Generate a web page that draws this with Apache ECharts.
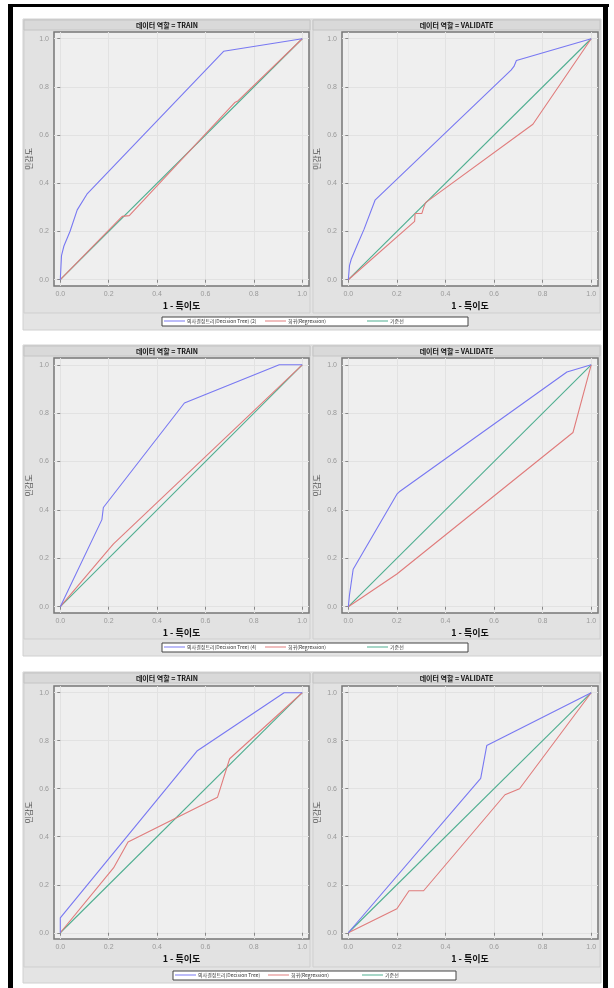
<!DOCTYPE html>
<html><head><meta charset="utf-8">
<script src="https://cdn.jsdelivr.net/npm/echarts@6/dist/echarts.min.js"></script>
<style>html,body{margin:0;padding:0;background:#fff}#c{width:614px;height:988px}</style>
</head><body><div id="c"></div>
<script>
// ---------- data ----------
const tickValues = [0, 0.2, 0.4, 0.6, 0.8, 1.0];
const tickLabels = ['0.0', '0.2', '0.4', '0.6', '0.8', '1.0'];
const facetTitles = ['데이터 역할 = TRAIN', '데이터 역할 = VALIDATE'];
const xTitle = '1 - 특이도';
const yTitle = '민감도';
const treeNames = ['의사결정트리(Decision Tree) (2)', '의사결정트리(Decision Tree) (4)', '의사결정트리(Decision Tree)'];
const regName = '회귀(Regression)';
const baseName = '기준선';

const tree1Train = [[0,0],[0.005,0.1],[0.015,0.14],[0.04,0.2],[0.07,0.29],[0.11,0.355],[0.675,0.948],[1,1]];
const reg1Train  = [[0,0],[0.256,0.263],[0.262,0.266],[0.285,0.266],[0.721,0.735],[0.725,0.742],[0.734,0.742],[1,1]];
const tree1Val   = [[0,0],[0.005,0.06],[0.012,0.085],[0.035,0.14],[0.065,0.21],[0.11,0.33],[0.67,0.87],[0.682,0.885],[0.692,0.91],[1,1]];
const reg1Val    = [[0,0],[0.273,0.242],[0.275,0.275],[0.303,0.275],[0.31,0.298],[0.316,0.3],[0.318,0.32],[0.76,0.645],[1,1]];

const tree2Train = [[0,0],[0.172,0.36],[0.178,0.41],[0.513,0.842],[0.905,1],[1,1]];
const reg2Train  = [[0,0],[0.21,0.248],[0.22,0.26],[1,1]];
const tree2Val   = [[0,0],[0.005,0.05],[0.02,0.155],[0.2,0.465],[0.21,0.475],[0.9,0.97],[1,1]];
const reg2Val    = [[0,0],[0.2,0.135],[0.925,0.72],[1,1]];

const tree3Train = [[0,0],[0,0.062],[0.565,0.757],[0.925,1],[1,1]];
const reg3Train  = [[0,0],[0.22,0.27],[0.28,0.378],[0.65,0.565],[0.7,0.725],[1,1]];
const tree3Val   = [[0,0],[0.545,0.643],[0.57,0.78],[1,1]];
const reg3Val    = [[0,0],[0.2,0.1],[0.25,0.175],[0.31,0.175],[0.645,0.575],[0.705,0.6],[1,1]];

const baseline = [[0,0],[1,1]];

const panelData = [
  [[tree1Train, reg1Train], [tree1Val, reg1Val]],
  [[tree2Train, reg2Train], [tree2Val, reg2Val]],
  [[tree3Train, reg3Train], [tree3Val, reg3Val]]
];

// ---------- layout / style ----------
const FONT = '"Liberation Sans", "Noto Sans CJK KR", sans-serif';
const KFONT = '"Noto Sans CJK KR", "Liberation Sans", sans-serif';
const C_TREE = '#7878f2', C_REG = '#e07c7c', C_BASE = '#4fae90';
const layout = [
  {pTop:19, pBot:330, cBot:313, gTop:32, gH:254, lTop:317, lBot:326, lL:162, lR:468, items:[164,265,367]},
  {pTop:345, pBot:656, cBot:639, gTop:358, gH:255, lTop:643, lBot:652, lL:162, lR:468, items:[164,265,367]},
  {pTop:672, pBot:983, cBot:967, gTop:686, gH:253, lTop:971, lBot:980, lL:173, lR:456, items:[175,268,362]}
];
const cols = [{cL:24, cR:310, gL:54, gW:255}, {cL:313, cR:600, gL:342, gW:256}];
const AMIN = -0.026, AMAX = 1.028;

const grids = [], xAxes = [], yAxes = [], series = [], legends = [], graphics = [];

layout.forEach((P, pi) => {
  graphics.push({type:'rect', shape:{x:23, y:P.pTop, width:578, height:P.pBot-P.pTop}, style:{fill:'#e4e4e4', stroke:'#d0d0d0', lineWidth:1}, z:-10});
  graphics.push({type:'rect', shape:{x:P.lL, y:P.lTop, width:P.lR-P.lL, height:P.lBot-P.lTop}, style:{fill:'#ffffff', stroke:'#444', lineWidth:1}, z:-5});
  cols.forEach((C, ci) => {
    graphics.push({type:'rect', shape:{x:C.cL, y:P.pTop+1, width:C.cR-C.cL, height:P.cBot-P.pTop-1}, style:{fill:'#e2e2e2', stroke:'#cfcfcf', lineWidth:1}, z:-9});
    graphics.push({type:'rect', shape:{x:C.cL, y:P.pTop+1, width:C.cR-C.cL, height:10}, style:{fill:'#d9d9d9', stroke:'#c4c4c4', lineWidth:1}, z:-8});
    graphics.push({type:'text', x:(C.cL+C.cR)/2, y:P.pTop+6.5, style:{text:facetTitles[ci], fontSize:7, fontWeight:'bold', fontFamily:KFONT, fill:'#111', align:'center', verticalAlign:'middle'}, z:5});
    const idx = grids.length;
    grids.push({left:C.gL, top:P.gTop, width:C.gW, height:P.gH, show:true, backgroundColor:'#efefef', borderColor:'#777', borderWidth:1.5, containLabel:false});
    xAxes.push({type:'value', gridIndex:idx, min:AMIN, max:AMAX,
      name:xTitle, nameLocation:'middle', nameGap:15, nameTextStyle:{fontSize:9, fontWeight:'bold', color:'#111', fontFamily:KFONT},
      axisLine:{show:false}, axisTick:{show:true, length:3, customValues:tickValues, lineStyle:{color:'#888'}},
      axisLabel:{customValues:tickValues, formatter:v => tickLabels[tickValues.indexOf(Math.round(v*10)/10)], fontSize:7, color:'#999', margin:5, fontFamily:FONT},
      splitLine:{show:true, lineStyle:{color:'#e2e2e2', width:1}}});
    yAxes.push({type:'value', gridIndex:idx, min:AMIN, max:AMAX,
      name:yTitle, nameLocation:'middle', nameGap:21, nameTextStyle:{fontSize:8, color:'#555', fontFamily:KFONT},
      axisLine:{show:false}, axisTick:{show:true, length:3, customValues:tickValues, lineStyle:{color:'#888'}},
      axisLabel:{customValues:tickValues, formatter:v => tickLabels[tickValues.indexOf(Math.round(v*10)/10)], fontSize:7, color:'#999', margin:5, fontFamily:FONT},
      splitLine:{show:true, lineStyle:{color:'#e2e2e2', width:1}}});
    const [treeD, regD] = panelData[pi][ci];
    const common = {type:'line', xAxisIndex:idx, yAxisIndex:idx, symbol:'none', silent:true, animation:false};
    series.push(Object.assign({name:baseName, data:baseline, lineStyle:{color:C_BASE, width:1.1}, itemStyle:{color:C_BASE}, z:3}, common));
    series.push(Object.assign({name:regName, data:regD, lineStyle:{color:C_REG, width:1.1}, itemStyle:{color:C_REG}, z:4}, common));
    series.push(Object.assign({name:treeNames[pi], data:treeD, lineStyle:{color:C_TREE, width:1.1}, itemStyle:{color:C_TREE}, z:5}, common));
  });
  [treeNames[pi], regName, baseName].forEach((nm, k) => {
    legends.push({data:[nm], left:P.items[k], top:P.lTop+1.5, orient:'horizontal', icon:'rect', itemWidth:21, itemHeight:1, itemGap:0, padding:0,
      selectedMode:false, textStyle:{fontSize:5, color:'#333', fontFamily:KFONT, padding:[0,0,0,-3]}});
  });
});

// outer black frame
graphics.push({type:'rect', shape:{x:8, y:4, width:601, height:3}, style:{fill:'#000'}, z:20});
graphics.push({type:'rect', shape:{x:8, y:4, width:5, height:984}, style:{fill:'#000'}, z:20});
graphics.push({type:'rect', shape:{x:603, y:4, width:5, height:984}, style:{fill:'#000'}, z:20});

const chart = echarts.init(document.getElementById('c'), null, {renderer:'canvas'});
chart.setOption({
  animation:false,
  textStyle:{fontFamily:FONT},
  grid:grids, xAxis:xAxes, yAxis:yAxes, series:series, legend:legends,
  graphic:{elements:graphics}
});
</script></body></html>
